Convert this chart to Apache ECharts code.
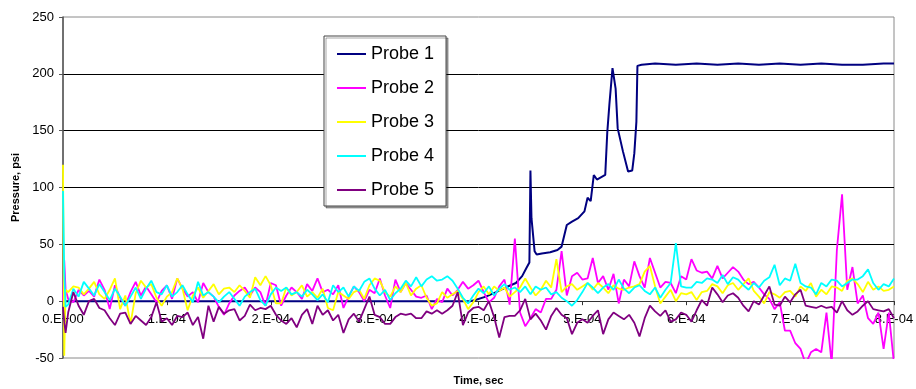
<!DOCTYPE html>
<html><head><meta charset="utf-8">
<script src="https://cdn.jsdelivr.net/npm/echarts@6/dist/echarts.min.js"></script>
<style>html,body{margin:0;padding:0;background:#fff;} #c{width:916px;height:389px;}</style>
</head><body><div id="c"></div>
<script>
// Time is in units of 1E-04 s
const seriesNames = ['Probe 1', 'Probe 2', 'Probe 3', 'Probe 4', 'Probe 5'];
const seriesColors = ['#000080', '#FF00FF', '#FFFF00', '#00FFFF', '#800080'];
const xTickLabels = ['0.E+00', '1.E-04', '2.E-04', '3.E-04', '4.E-04', '5.E-04', '6.E-04', '7.E-04', '8.E-04'];
const yMin = -50, yMax = 250, yStep = 50;

const probe1Time = [0, 3.92, 3.97, 4.07, 4.17, 4.26, 4.36, 4.42, 4.46, 4.49, 4.50, 4.51, 4.54, 4.56, 4.61, 4.69, 4.76, 4.80, 4.85, 4.90, 4.96, 5.02, 5.05, 5.08, 5.11, 5.14, 5.22, 5.24, 5.26, 5.29, 5.32, 5.34, 5.39, 5.44, 5.48, 5.50, 5.52, 5.53, 5.57, 5.7, 5.9, 6.1, 6.3, 6.5, 6.7, 6.9, 7.1, 7.3, 7.5, 7.7, 7.9, 8.0];
const probe1 = [0, 0, 1, 4, 8, 12, 16, 22, 29, 34, 115, 73, 44, 41, 42, 43, 45, 48, 67, 70, 73, 79, 91, 88, 111, 107, 111, 149, 173, 205, 187, 152, 132, 114, 115, 130, 158, 207, 208, 209, 208, 209, 208, 209, 208, 209, 208, 209, 208, 208, 209, 209];

// noise probes: three lead samples, then one sample every 0.05 (x1E-04 s)
const leadTimes = [0, 0.012, 0.025];
const sampleStep = 0.05;
const sampleCount = 160;

const probe2 = [0, 36, 10,
  2, -1, 10, 5, 9, 4, 19, 10, -7, 14, 3, -4, 8, 17, 5, 13, 6, -1, 9, 14, 2, 20, 11, 4, 8, -1, 16, 8, 4, -5, -12, -2, 5, 9, 12, 5, 12, 8, -4, 16,
  14, -4, 5, 12, 8, 2, 15, 9, 20, 8, 10, 6, 14, -6, 4, 13, 8, 0, 10, 7, 20, 5, -6, 19, 8, 16, 10, 4, 3, 5, -7, 2, -1, 11, 5, 10, 17, 11, 14, 18,
  8, -1, 3, 13, 19, -3, 55, -10, -22, -15, -7, -10, 2, 2, 10, 44, 5, 22, 25, 19, 20, 38, 16, 22, 10, 24, -2, 19, 13, 35, 22, 12, 38, 25, 12, 17, 16, 7, 22, 19,
  37, 27, 25, 26, 20, 31, 20, 25, 30, 26, 19, 15, 17, 12, 6, 2, -7, -1, -26, -26, -37, -42, -55, -45, -42, -45, -10, -55, 45, 94, 10, 30, -2, 5, -15, -20, -10, -42, -10, -55];
const probe3 = [120, -48, 10,
  8, 13, 12, 6, 11, 17, 6, 2, 10, 20, -7, 5, -20, 7, 18, 12, 15, 3, -4, 4, 8, 20, 11, -8, 5, 12, 3, 9, 15, 6, 11, 12, 8, 14, 9, 3, 21, 14, 22, 14,
  -2, -2, 12, 5, 8, 14, 4, 8, 3, 11, -6, -8, 8, 5, 2, 8, 10, 2, 14, 20, 18, 8, 4, 13, 8, 16, 5, 11, 14, 3, -4, -2, 8, 3, 6, 9, 2, -7, -1, 8,
  13, 6, 13, 9, 12, 4, 8, 12, 20, 12, 5, 10, 18, 12, 37, 8, 13, 15, 10, 13, 16, 10, 16, 12, 7, 14, 11, 10, 12, 13, 15, 26, 31, 13, -2, 4, 10, 0, 7, 6,
  8, 1, 8, 9, 15, 13, 7, 14, 16, 10, 15, 20, 9, 4, -2, 8, 6, 3, 8, 9, 4, 13, 9, 16, 4, 10, 6, 13, 12, 9, 18, 20, 15, 8, 17, 10, 13, 9, 10, 13];
const probe4 = [97, 25, -5,
  -3, 11, 4, 17, 11, 5, 15, 8, 1, 11, 4, -4, 4, 12, 2, 11, 18, 8, 6, 14, 4, 8, 14, 6, -1, 17, 5, 8, 4, -1, 4, 8, 2, -4, 4, 8, 11, 1, -4, 6,
  12, 9, 12, 6, 8, 4, 10, 6, 1, 6, -1, 14, 8, 12, 4, 13, 9, 17, 20, 11, 5, 10, 1, 7, 11, 18, 13, 21, 13, 19, 22, 18, 19, 22, 18, 11, 3, -2, 5, 11,
  7, 13, 5, 11, 15, 10, 12, 8, 13, 6, 13, 10, 12, 6, 8, 3, 0, -4, 1, 8, 16, 12, 7, 12, 15, 10, 19, 11, 7, 12, 14, 9, 6, 12, 3, 10, 16, 51, 13, 12,
  12, 17, 16, 20, 19, 16, 23, 15, 21, 19, 14, 10, 16, 12, 18, 21, 32, 14, 20, 18, 33, 16, 13, 12, 6, 16, 13, 19, 18, 13, 16, 19, 19, 22, 28, 16, 10, 15, 13, 20];
const probe5 = [-5, -18, -28,
  -10, 8, -4, -12, 0, 2, -6, -8, -15, -21, -11, -10, -20, -13, -17, -21, -14, -1, -18, -15, -21, -13, -14, -10, -21, -14, -33, -4, -18, -5, -11, -8, -7, -17, -13, -3, -8, -6, -7, -4,
  -12, -17, -20, -15, -23, -12, -7, -20, -4, -12, -8, -17, -12, -28, -16, -11, -18, -7, 4, -12, -14, -20, -20, -14, -11, -12, -11, -15, -15, -9, -11, -8, -11, -8, -4, 8, -21, -10, -6, -5,
  -8, 0, -14, -32, -14, -13, -13, -8, 2, -16, -11, -17, -25, -13, -6, -12, -15, -29, -19, -16, -19, -13, -8, -29, -16, -10, -13, -16, -12, -19, -31, -15, -4, -9, -13, -8, -18, -16, -10, -12,
  -18, -8, 1, -4, 12, 6, -1, 5, 7, 3, -4, -9, 0, -3, 5, 13, -3, -4, 4, -1, 6, 10, -4, -5, -6, -4, -6, -5, -10, 0, -8, -12, -9, -4, 0, -7, -8, -9, -7, -15];

const sampleTimes = leadTimes.concat(Array.from({length: sampleCount}, (_, k) => +((k + 1) * sampleStep).toFixed(3)));
const pair = (ts, vs) => vs.map((v, i) => [ts[i], v]);
const seriesData = [
  pair(probe1Time, probe1),
  pair(sampleTimes, probe2),
  pair(sampleTimes, probe3),
  pair(sampleTimes, probe4),
  pair(sampleTimes, probe5)
];

const GRID = {left: 63, right: 22, top: 17, bottom: 31};
const H = 389;
const gridHeight = H - GRID.top - GRID.bottom;
// move the x axis up from the grid bottom to the y = 0 level
const zeroOffset = -((0 - yMin) / (yMax - yMin)) * gridHeight;

const FONT = '"Liberation Sans", Arial, sans-serif';
const chart = echarts.init(document.getElementById('c'), null, {renderer: 'canvas'});
chart.setOption({
  animation: false,
  backgroundColor: '#fff',
  textStyle: {fontFamily: FONT},
  grid: Object.assign({containLabel: false, outerBoundsMode: 'none', show: true, borderColor: '#8a8a8a', borderWidth: 1, backgroundColor: 'transparent'}, GRID),
  legend: {
    orient: 'vertical', left: 324, top: 36,
    icon: 'rect', itemWidth: 29, itemHeight: 2, itemGap: 14,
    padding: [8, 12, 6, 13],
    backgroundColor: '#fff', borderColor: '#444', borderWidth: 1,
    shadowColor: 'rgba(0,0,0,0.35)', shadowOffsetX: 2, shadowOffsetY: 2, shadowBlur: 0,
    textStyle: {fontSize: 18, color: '#000', fontFamily: FONT, lineHeight: 20},
    data: seriesNames
  },
  xAxis: {
    type: 'value', min: 0, max: 8, interval: 1,
    position: 'bottom', offset: zeroOffset,
    name: 'Time, sec', nameLocation: 'middle', nameGap: 74,
    nameTextStyle: {fontWeight: 'bold', fontSize: 11, color: '#000', fontFamily: FONT},
    axisLine: {onZero: false, lineStyle: {color: '#333', width: 1}},
    axisTick: {show: true, length: 4, lineStyle: {color: '#333'}},
    axisLabel: {formatter: v => xTickLabels[Math.round(v)], color: '#000', fontSize: 13, margin: 12, fontFamily: FONT, showMinLabel: true, showMaxLabel: true},
    splitLine: {show: false}
  },
  yAxis: {
    type: 'value', min: yMin, max: yMax, interval: yStep,
    name: 'Pressure, psi', nameLocation: 'middle', nameGap: 37, nameRotate: 90,
    nameTextStyle: {fontWeight: 'bold', fontSize: 11, color: '#000', fontFamily: FONT},
    axisLine: {show: true, onZero: false, lineStyle: {color: '#555', width: 1.5}},
    axisTick: {show: true, length: 4, lineStyle: {color: '#555'}},
    axisLabel: {color: '#000', fontSize: 13, margin: 9, fontFamily: FONT},
    splitLine: {show: true, showMinLine: false, showMaxLine: false, lineStyle: {color: '#000', width: 1}}
  },
  series: seriesNames.map((n, i) => ({
    name: n, type: 'line', data: seriesData[i],
    symbol: 'none', showSymbol: false, clip: true,
    color: seriesColors[i],
    lineStyle: {color: seriesColors[i], width: i === 0 ? 2 : 1.8},
    z: 2 + i
  }))
});
</script>
</body></html>
